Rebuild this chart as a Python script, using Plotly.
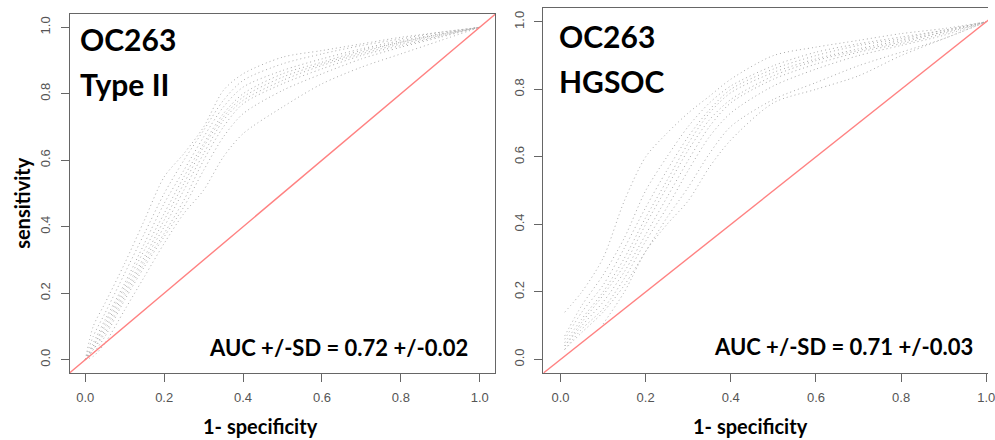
import plotly.graph_objects as go

# ---------------- data ----------------
tick_vals = [0.0, 0.2, 0.4, 0.6, 0.8, 1.0]
tick_text = ["0.0", "0.2", "0.4", "0.6", "0.8", "1.0"]

# Left panel: OC263 Type II  (1-specificity grid, sensitivity per resample)
left_fpr = [0.0, 0.02, 0.05, 0.10, 0.15, 0.20, 0.25, 0.30, 0.35, 0.40, 0.50, 0.60, 0.70, 0.80, 0.90, 1.0]
left_tpr = [
    [0, 0.10, 0.17, 0.29, 0.42, 0.55, 0.62, 0.70, 0.81, 0.86, 0.91, 0.93, 0.95, 0.97, 0.985, 1],
    [0, 0.07, 0.14, 0.26, 0.38, 0.50, 0.60, 0.69, 0.78, 0.84, 0.89, 0.92, 0.945, 0.965, 0.985, 1],
    [0, 0.05, 0.12, 0.23, 0.35, 0.47, 0.57, 0.67, 0.76, 0.82, 0.87, 0.905, 0.935, 0.96, 0.98, 1],
    [0, 0.04, 0.11, 0.22, 0.33, 0.44, 0.55, 0.65, 0.74, 0.80, 0.86, 0.895, 0.93, 0.955, 0.98, 1],
    [0, 0.04, 0.10, 0.21, 0.31, 0.42, 0.53, 0.64, 0.73, 0.79, 0.85, 0.89, 0.925, 0.955, 0.978, 1],
    [0, 0.03, 0.09, 0.20, 0.30, 0.40, 0.51, 0.62, 0.72, 0.78, 0.84, 0.885, 0.92, 0.95, 0.975, 1],
    [0, 0.03, 0.08, 0.19, 0.29, 0.38, 0.48, 0.60, 0.70, 0.77, 0.83, 0.875, 0.915, 0.945, 0.973, 1],
    [0, 0.02, 0.07, 0.18, 0.28, 0.37, 0.46, 0.57, 0.67, 0.74, 0.81, 0.86, 0.905, 0.94, 0.97, 1],
    [0, 0.01, 0.05, 0.15, 0.25, 0.35, 0.44, 0.51, 0.61, 0.68, 0.76, 0.83, 0.88, 0.92, 0.96, 1],
]

# Right panel: OC263 HGSOC
right_fpr = [0.01, 0.05, 0.10, 0.15, 0.20, 0.25, 0.30, 0.35, 0.40, 0.50, 0.60, 0.70, 0.80, 0.90, 1.0]
right_tpr = [
    [0.14, 0.20, 0.30, 0.47, 0.60, 0.67, 0.73, 0.78, 0.83, 0.90, 0.925, 0.945, 0.965, 0.98, 1],
    [0.07, 0.16, 0.25, 0.36, 0.50, 0.60, 0.69, 0.76, 0.81, 0.87, 0.91, 0.935, 0.955, 0.975, 1],
    [0.06, 0.14, 0.22, 0.33, 0.45, 0.56, 0.66, 0.74, 0.80, 0.86, 0.90, 0.93, 0.95, 0.975, 1],
    [0.05, 0.12, 0.20, 0.30, 0.42, 0.53, 0.64, 0.73, 0.79, 0.85, 0.89, 0.92, 0.945, 0.97, 1],
    [0.04, 0.11, 0.19, 0.28, 0.40, 0.51, 0.62, 0.71, 0.77, 0.84, 0.885, 0.915, 0.94, 0.97, 1],
    [0.04, 0.10, 0.17, 0.26, 0.37, 0.48, 0.59, 0.69, 0.76, 0.83, 0.875, 0.91, 0.935, 0.965, 1],
    [0.03, 0.09, 0.15, 0.24, 0.35, 0.45, 0.56, 0.66, 0.73, 0.81, 0.86, 0.90, 0.93, 0.96, 1],
    [0.03, 0.08, 0.14, 0.22, 0.32, 0.42, 0.51, 0.61, 0.69, 0.77, 0.82, 0.87, 0.91, 0.95, 1],
    [None, None, 0.105, 0.20, 0.32, 0.40, 0.47, 0.57, 0.65, 0.76, 0.80, 0.84, 0.90, 0.95, 1],
]

diag = [-0.04, 1.04]

titles = [("OC263", "Type II"), ("OC263", "HGSOC")]
auc_text = ["AUC +/-SD = 0.72 +/-0.02", "AUC +/-SD = 0.71 +/-0.03"]
xlabel = "1- specificity"
ylabel = "sensitivity"

# ---------------- figure ----------------
W, H = 995, 440
fig = go.Figure()

curve_line = dict(color="#aaaaaa", width=1, dash="1px,3px", shape="spline", smoothing=0.8)
red_line = dict(color="#ff8282", width=1.4)

for tpr in left_tpr:
    fig.add_trace(go.Scatter(x=left_fpr, y=tpr, mode="lines", line=curve_line,
                             xaxis="x", yaxis="y", hoverinfo="skip", connectgaps=False))
fig.add_trace(go.Scatter(x=diag, y=diag, mode="lines", line=red_line, xaxis="x", yaxis="y"))

for tpr in right_tpr:
    fig.add_trace(go.Scatter(x=right_fpr, y=tpr, mode="lines", line=curve_line,
                             xaxis="x2", yaxis="y2", hoverinfo="skip", connectgaps=False))
fig.add_trace(go.Scatter(x=diag, y=diag, mode="lines", line=red_line, xaxis="x2", yaxis="y2"))

tickfont = dict(family="Liberation Sans, Arial, sans-serif", size=13, color="#555555")
axcommon = dict(showgrid=False, zeroline=False, showline=True, linecolor="#666666", linewidth=1,
                ticks="outside", ticklen=8, tickcolor="#666666", tickwidth=1,
                tickvals=tick_vals, ticktext=tick_text, tickfont=tickfont)

fig.update_layout(
    width=W, height=H, margin=dict(l=0, r=0, t=0, b=0),
    paper_bgcolor="white", plot_bgcolor="white", showlegend=False,
    xaxis=dict(**axcommon, domain=[70 / W, 499 / W], range=[-0.04, 1.04], mirror=True,
               anchor="y", ticklabelstandoff=4),
    yaxis=dict(**axcommon, domain=[(H - 373) / H, (H - 14) / H], range=[-0.04, 1.04], mirror=True,
               anchor="x", tickangle=-90, ticklabelstandoff=5),
    xaxis2=dict(**axcommon, domain=[547.3 / W, 1.0], range=[-0.04, 1.004], mirror=True,
                anchor="y2", ticklabelstandoff=4, ticklabeloverflow="allow"),
    yaxis2=dict(**axcommon, domain=[(H - 373) / H, (H - 8.3) / H], range=[-0.04, 1.04], mirror=False,
                anchor="x2", tickangle=-90, ticklabelstandoff=5),
)

bold = "Lato, 'Open Sans', sans-serif"
ann = []
# titles
title_pos = [(79, 39, 84), (561, 35.5, 80.5)]
for (t1, t2), (x0, y1, y2) in zip(titles, title_pos):
    ann.append(dict(text="<b>%s</b>" % t1, x=x0 / W, y=1 - y1 / H, xref="paper", yref="paper",
                    xanchor="left", yanchor="middle", showarrow=False,
                    font=dict(family=bold, size=30, color="black")))
    ann.append(dict(text="<b>%s</b>" % t2, x=x0 / W, y=1 - y2 / H, xref="paper", yref="paper",
                    xanchor="left", yanchor="middle", showarrow=False,
                    font=dict(family=bold, size=30, color="black")))
# AUC text
for txt, (cx, cy) in zip(auc_text, [(340.5, 347), (849, 346)]):
    ann.append(dict(text="<b>%s</b>" % txt, x=cx / W, y=1 - cy / H, xref="paper", yref="paper",
                    xanchor="center", yanchor="middle", showarrow=False,
                    font=dict(family=bold, size=22, color="black")))
# axis titles
for cx in [262, 756]:
    ann.append(dict(text="<b>%s</b>" % xlabel, x=cx / W, y=1 - 426 / H, xref="paper", yref="paper",
                    xanchor="center", yanchor="middle", showarrow=False,
                    font=dict(family=bold, size=20, color="black")))
ann.append(dict(text="<b>%s</b>" % ylabel, x=22 / W, y=1 - 203 / H, xref="paper", yref="paper",
                xanchor="center", yanchor="middle", showarrow=False, textangle=-90,
                font=dict(family=bold, size=20, color="black")))
fig.update_layout(annotations=ann)

fig.write_html("out.html", config={"displayModeBar": False},
               post_script="document.body.style.margin='0px';document.body.style.overflow='hidden';")
